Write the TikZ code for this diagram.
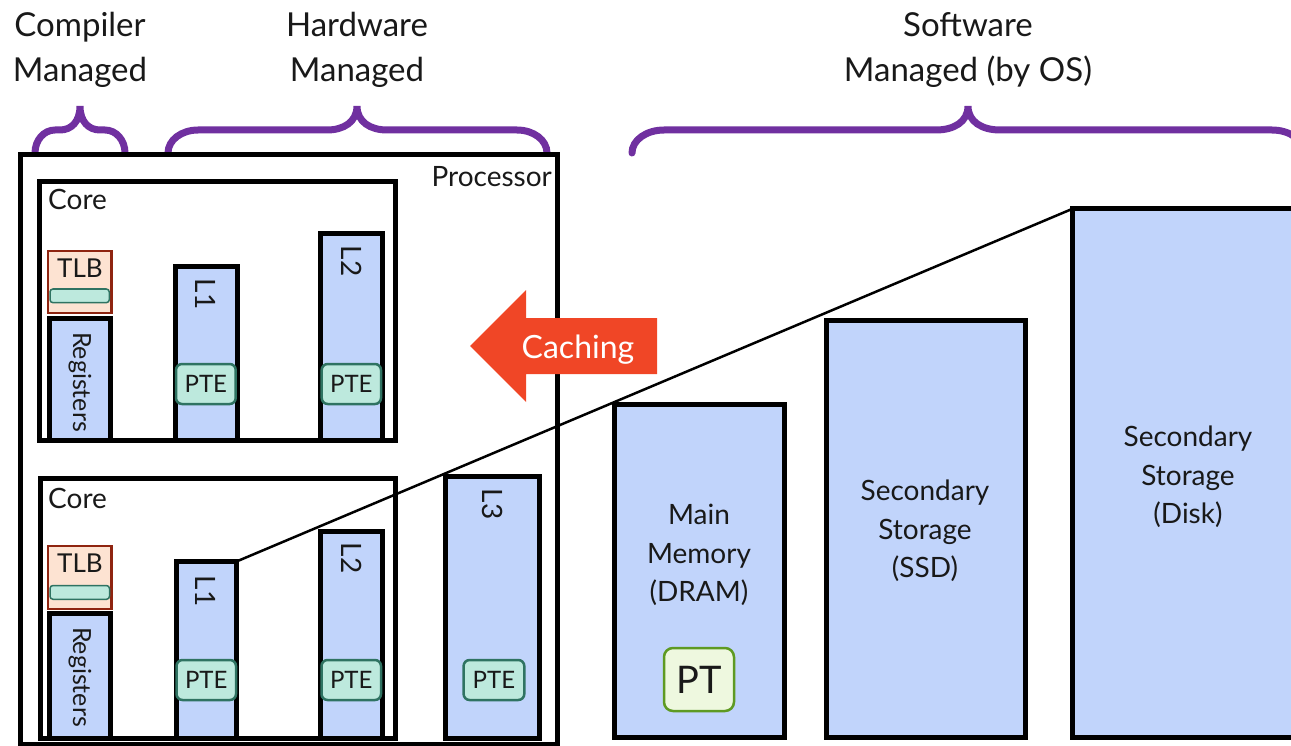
\documentclass[tikz,border=0pt]{standalone}
\usepackage{fontspec}
\setmainfont{Lato}
\usetikzlibrary{fit}
\definecolor{memblue}{RGB}{193,212,251}
\definecolor{ptefill}{RGB}{189,233,221}
\definecolor{pteline}{RGB}{47,115,98}
\definecolor{tlbfill}{RGB}{253,227,210}
\definecolor{tlbline}{RGB}{143,36,16}
\definecolor{ptfill}{RGB}{238,248,223}
\definecolor{ptline}{RGB}{94,154,34}
\definecolor{bracecol}{RGB}{112,48,160}
\definecolor{cachecol}{RGB}{240,70,38}
\definecolor{txt}{RGB}{25,25,25}
\newcommand\mybrace[4]{%
  \draw[brace] (#1,153) .. controls (#1,140) and ({#1+#4*0.45},130) .. ({#1+#4},130)
    -- ({#2-#4},130) .. controls ({#2-#4*0.45},130) and (#2,122) .. (#2,106)
    .. controls (#2,122) and ({#2+#4*0.45},130) .. ({#2+#4},130)
    -- ({#3-#4},130) .. controls ({#3-#4*0.45},130) and (#3,140) .. (#3,153);}
\begin{document}
\begin{tikzpicture}[x=1pt,y=-1pt,
  every node/.style={text=txt},
  frame/.style={draw=black, line width=4.5pt, inner sep=0pt, outer sep=0pt},
  mem/.style={draw=black, line width=5pt, fill=memblue, inner sep=0pt, outer sep=0pt},
  pte/.style={draw=pteline, line width=2.5pt, fill=ptefill, rounded corners=6pt, inner sep=0pt},
  ptetxt/.style={inner sep=0pt, font=\fontsize{24}{28}\selectfont},
  tlb/.style={draw=tlbline, line width=2.5pt, fill=tlbfill, inner sep=0pt, outer sep=0pt},
  tlbbar/.style={draw=pteline, line width=1.5pt, fill=ptefill, rounded corners=3pt, inner sep=0pt},
  ptbox/.style={draw=ptline, line width=2.5pt, fill=ptfill, rounded corners=9pt, inner sep=0pt},
  pttxt/.style={inner sep=0pt, font=\fontsize{38}{44}\selectfont},
  brace/.style={draw=bracecol, line width=7pt, line cap=round},
  toplbl/.style={inner sep=0pt, align=center, font=\fontsize{33}{45}\selectfont},
  lbl/.style={inner sep=0pt, font=\fontsize{28}{32}\selectfont},
  rlbl/.style={inner sep=0pt, rotate=-90},
  memlbl/.style={inner sep=0pt, align=center, font=\fontsize{28}{38.5}\selectfont},
  link/.style={draw=black, line width=2.5pt},
  cache/.style={fill=cachecol}
]
\useasboundingbox (0,0) rectangle (1291,746);
\clip (0,0) rectangle (1291,746);

% top labels
\node[toplbl, anchor=base] (tc1) at (80,37) {Compiler};
\node[toplbl, anchor=base] (tc2) at (80,82) {Managed};
\node[toplbl, anchor=base] (th1) at (357,37) {Hardware};
\node[toplbl, anchor=base] (th2) at (357,82) {Managed};
\node[toplbl, anchor=base] (ts1) at (968,37) {Software};
\node[toplbl, anchor=base] (ts2) at (968,82) {Managed (by OS)};

% braces
\mybrace{35}{80}{125}{20}
\mybrace{168}{357}{547}{30}
\mybrace{632}{968}{1304}{32}

% processor
\node[frame, fit={(20.5,154.5) (557.5,744)}] (proc) {};
\node[lbl, anchor=base east] (proclbl) at (552,187) {Processor};

% core 1
\node[frame, line width=5pt, fit={(39,181.5) (395,440.5)}] (core1) {};
\node[lbl, anchor=base west] (core1lbl) at (48,210) {Core};
\node[tlb, fit={(48,251) (111.5,313)}] (tlb1) {};
\node[lbl, anchor=base, font=\fontsize{26}{30}\selectfont] (tlb1lbl) at (80,277) {TLB};
\node[tlbbar, fit={(50,289) (109.3,302.7)}] (bar1) {};
\node[mem, fit={(49,318) (110,440.5)}] (reg1) {};
\node[rlbl, font=\fontsize{25}{28}\selectfont] (reg1lbl) at (80,382) {Registers};
\node[mem, fit={(175,266.5) (237.5,440.5)}] (l1a) {};
\node[rlbl, font=\fontsize{28}{32}\selectfont] (l1albl) at (206,294) {L1};
\node[pte, fit={(176,364) (235.7,404)}] (pte1) {};
\node[ptetxt] (pte1lbl) at (pte1.center) {PTE};
\node[mem, fit={(320.5,234) (382.5,440.5)}] (l2a) {};
\node[rlbl, font=\fontsize{28}{32}\selectfont] (l2albl) at (351.5,261) {L2};
\node[pte, fit={(321.7,364) (381,404)}] (pte2) {};
\node[ptetxt] (pte2lbl) at (pte2.center) {PTE};

% core 2
\node[frame, line width=5pt, fit={(40,478) (395,738)}] (core2) {};
\node[lbl, anchor=base west] (core2lbl) at (48,508) {Core};
\node[tlb, fit={(48,546) (111.5,609)}] (tlb2) {};
\node[lbl, anchor=base, font=\fontsize{26}{30}\selectfont] (tlb2lbl) at (80,572) {TLB};
\node[tlbbar, fit={(50,585.5) (109.5,599.3)}] (bar2) {};
\node[mem, fit={(49,613) (110,738)}] (reg2) {};
\node[rlbl, font=\fontsize{25}{28}\selectfont] (reg2lbl) at (80,677) {Registers};
\node[mem, fit={(176,561.5) (236.5,738)}] (l1b) {};
\node[rlbl, font=\fontsize{28}{32}\selectfont] (l1blbl) at (206,591) {L1};
\node[pte, fit={(176.5,660) (236,700)}] (pte3) {};
\node[ptetxt] (pte3lbl) at (pte3.center) {PTE};
\node[mem, fit={(320.5,531.5) (382.5,738)}] (l2b) {};
\node[rlbl, font=\fontsize{28}{32}\selectfont] (l2blbl) at (351.5,558) {L2};
\node[pte, fit={(321.5,660) (381,700)}] (pte4) {};
\node[ptetxt] (pte4lbl) at (pte4.center) {PTE};

% L3
\node[mem, fit={(445.5,476.5) (539.5,738)}] (l3) {};
\node[rlbl, font=\fontsize{28}{32}\selectfont] (l3lbl) at (492.5,504) {L3};
\node[pte, fit={(463.6,660) (524.3,700)}] (pte5) {};
\node[ptetxt] (pte5lbl) at (pte5.center) {PTE};

% memory hierarchy beyond the processor
\node[mem, fit={(614,404) (784,737.5)}] (dram) {};
\node[memlbl] (dramlbl) at (699,555) {Main\\Memory\\(DRAM)};
\node[ptbox, fit={(664,648) (734,711)}] (pt) {};
\node[pttxt] (ptlbl) at (pt.center) {PT};
\node[mem, fit={(826,320) (1025,737.5)}] (ssd) {};
\node[memlbl] (ssdlbl) at (925,531) {Secondary\\Storage\\(SSD)};
\node[mem, fit={(1072,209) (1330,737.5)}] (disk) {};
\node[memlbl] (disklbl) at (1188,477) {Secondary\\Storage\\(Disk)};

% connector
\draw[link] (l1b.north east) -- (disk.north west);

% caching arrow
\fill[cache] (470,346) -- (526,290) -- (526,318) -- (657,318) -- (657,374) -- (526,374) -- (526,402) -- cycle;
\node[inner sep=0pt, anchor=base, text=white, font=\fontsize{32}{36}\selectfont] (cachelbl) at (578,358) {Caching};
\end{tikzpicture}
\end{document}
